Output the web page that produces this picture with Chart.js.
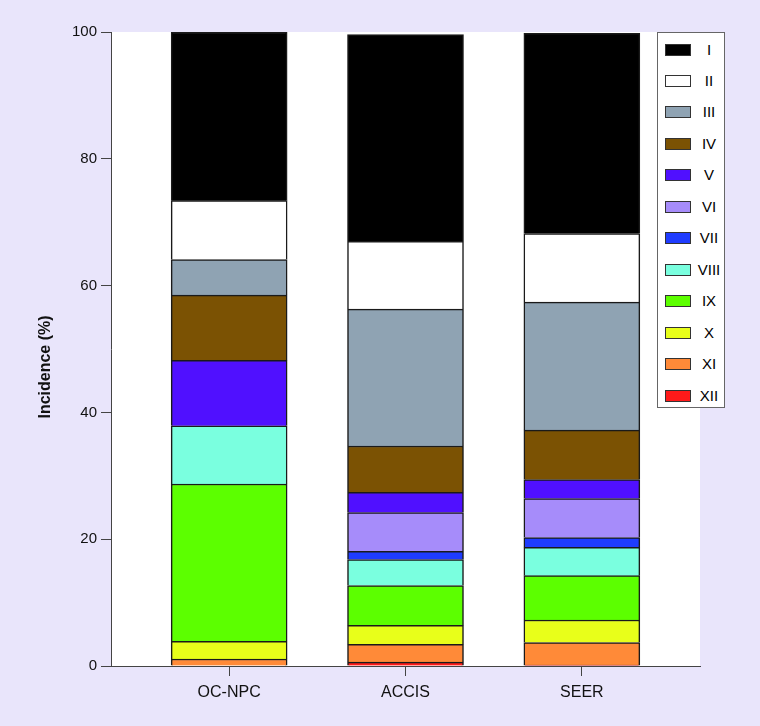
<!DOCTYPE html>
<html>
<head>
<meta charset="utf-8">
<script src="https://cdn.jsdelivr.net/npm/chart.js@4.4.1/dist/chart.umd.min.js"></script>
<style>
    body { margin: 0; background: #e9e5fb; font-family: "Liberation Sans", Arial, sans-serif; }
    #wrap { position: relative; width: 760px; height: 726px; }
    #legend {
        position: absolute; left: 657px; top: 32px; width: 66px; height: 374px;
        background: #fff; border: 1px solid #666;
    }
    .row { position: absolute; left: 0; width: 66px; height: 16px; }
    .sw { position: absolute; left: 7px; top: 2px; width: 24px; height: 10px; border: 1px solid #333; }
    .lb { position: absolute; left: 36px; width: 30px; top: -1px; text-align: center; font-size: 15px; color: #000; line-height: 17px; }
</style>
</head>
<body>
<div id="wrap">
    <canvas id="chart" width="760" height="726"></canvas>
    <div id="legend"></div>
</div>
<script>
const categories = ['OC-NPC', 'ACCIS', 'SEER'];
const groups = ['I', 'II', 'III', 'IV', 'V', 'VI', 'VII', 'VIII', 'IX', 'X', 'XI', 'XII'];

// incidence (%) per diagnostic group, one value per registry
const typeI    = [26.6, 32.6, 31.6];
const typeII   = [9.3, 10.7, 10.8];
const typeIII  = [5.6, 21.6, 20.2];
const typeIV   = [10.3, 7.3, 7.8];
const typeV    = [10.3, 3.2, 3.0];
const typeVI   = [0, 6.1, 6.15];
const typeVII  = [0, 1.3, 1.55];
const typeVIII = [9.2, 4.1, 4.45];
const typeIX   = [24.8, 6.3, 7.0];
const typeX    = [2.8, 3.0, 3.55];
const typeXI   = [1.1, 2.8, 3.55];
const typeXII  = [0, 0.6, 0.15];

const series = [typeI, typeII, typeIII, typeIV, typeV, typeVI, typeVII, typeVIII, typeIX, typeX, typeXI, typeXII];

const colors = ['#000000', '#ffffff', '#8fa3b3', '#7b5203', '#5010ff', '#a68cfa',
                '#1f3cff', '#7affdf', '#5cff00', '#e8ff1a', '#ff8a38', '#ff1a1a'];

// legend
const legend = document.getElementById('legend');
groups.forEach((g, i) => {
    const row = document.createElement('div');
    row.className = 'row';
    row.style.top = (8.5 + i * 31.47) + 'px';
    row.innerHTML = `<span class="sw" style="background:${colors[i]}"></span><span class="lb">${g}</span>`;
    legend.appendChild(row);
});

// stack from the bottom: XII first
const datasets = groups.map((g, i) => ({
    label: g,
    data: series[i].map((v, j) => ({ x: j + 1, y: v })),
    backgroundColor: colors[i],
    borderColor: '#1a1a1a',
    borderWidth: 1.5,
    barThickness: 116,
})).reverse();

const areaBg = {
    id: 'areaBg',
    beforeDraw(chart) {
        const { ctx, chartArea: a } = chart;
        ctx.save();
        ctx.fillStyle = '#fff';
        ctx.fillRect(a.left, a.top, a.right - a.left, a.bottom - a.top);
        ctx.restore();
    },
    afterDraw(chart) {
        const ctx = chart.ctx;
        ctx.save();
        ctx.translate(46, 367);
        ctx.rotate(-Math.PI / 2);
        ctx.font = 'bold 16px "Liberation Sans", Arial, sans-serif';
        ctx.fillStyle = '#111';
        ctx.textAlign = 'center';
        ctx.textBaseline = 'middle';
        ctx.fillText('Incidence (%)', 0, 0);
        ctx.restore();
    }
};

new Chart(document.getElementById('chart'), {
    type: 'bar',
    data: { datasets: datasets },
    options: {
        responsive: false,
        animation: false,
        layout: { padding: { top: 32, right: 60, left: 0, bottom: 0 } },
        plugins: { legend: { display: false }, tooltip: { enabled: false } },
        scales: {
            x: {
                type: 'linear',
                stacked: true,
                offset: false,
                min: 0.33,
                max: 3.67,
                afterBuildTicks: (s) => { s.ticks = categories.map((c, i) => ({ value: i + 1 })); },
                afterFit: (s) => { s.height = 60; },
                ticks: {
                    callback: (v) => categories[v - 1],
                    font: { family: '"Liberation Sans", Arial, sans-serif', size: 16 },
                    color: '#111',
                    padding: 7,
                    maxRotation: 0,
                    autoSkip: false,
                },
                grid: { offset: false, drawOnChartArea: false, tickLength: 10, color: '#444' },
                border: { color: '#444', width: 1 },
            },
            y: {
                stacked: true,
                min: 0,
                max: 100,
                afterFit: (s) => { s.width = 111; },
                ticks: {
                    stepSize: 20,
                    font: { family: '"Liberation Sans", Arial, sans-serif', size: 15 },
                    color: '#111',
                    padding: 4,
                },
                grid: { drawOnChartArea: false, tickLength: 10, color: '#444' },
                border: { color: '#444', width: 1 },
            }
        }
    },
    plugins: [areaBg],
});
</script>
</body>
</html>
